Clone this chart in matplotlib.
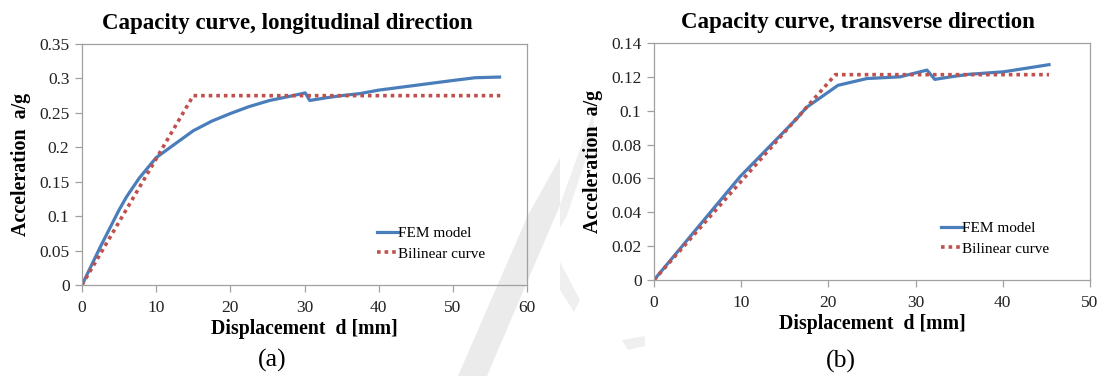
import matplotlib
matplotlib.use("Agg")
import matplotlib.pyplot as plt
from matplotlib.patches import Polygon

plt.rcParams['font.family'] = ['Liberation Serif', 'DejaVu Serif']

# Longitudinal direction data
long_fem_x = [0, 2.5, 5.0, 6.0, 7.7, 10.0, 12.3, 15.0, 17.5, 20.0, 22.5, 25.3, 28.0, 30.1, 30.7, 33.0, 35.0, 37.5, 40.0, 45.0, 50.0, 53.0, 56.3]
long_fem_y = [0, 0.056, 0.109, 0.128, 0.155, 0.185, 0.203, 0.224, 0.238, 0.249, 0.259, 0.268, 0.274, 0.279, 0.268, 0.272, 0.275, 0.278, 0.283, 0.290, 0.297, 0.301, 0.302]
long_bil_x = [0, 15.0, 56.4]
long_bil_y = [0, 0.275, 0.275]

# Transverse direction data
tran_fem_x = [0, 9.86, 16.4, 17.5, 21.1, 24.4, 28.2, 31.3, 32.2, 34.0, 36.1, 40.1, 45.3]
tran_fem_y = [0, 0.061, 0.0955, 0.102, 0.115, 0.119, 0.120, 0.124, 0.1185, 0.120, 0.1215, 0.123, 0.1272]
tran_bil_x = [0, 20.8, 45.3]
tran_bil_y = [0, 0.1213, 0.1213]

long_xticks = [0, 10, 20, 30, 40, 50, 60]
long_yticks = [0, 0.05, 0.1, 0.15, 0.2, 0.25, 0.3, 0.35]
long_yticklabels = ['0', '0.05', '0.1', '0.15', '0.2', '0.25', '0.3', '0.35']
tran_xticks = [0, 10, 20, 30, 40, 50]
tran_yticks = [0, 0.02, 0.04, 0.06, 0.08, 0.1, 0.12, 0.14]
tran_yticklabels = ['0', '0.02', '0.04', '0.06', '0.08', '0.1', '0.12', '0.14']

BLUE = '#4a7ebb'
RED = '#c0504d'

W, H = 1104, 376
fig = plt.figure(figsize=(W / 100, H / 100), dpi=100)

def px(points):
    return [[x / W, 1 - y / H] for x, y in points]

# light grey watermark fragments (drawn behind everything)
for pts, col in [
    ([(528, 215), (560, 158), (560, 205), (487, 376), (458, 376)], '#ebebeb'),
    ([(560, 205), (594, 110), (594, 135), (567, 215), (560, 228)], '#efefef'),
    ([(560, 262), (580, 300), (574, 312), (560, 290)], '#efefef'),
    ([(622, 340), (645, 336), (645, 346), (628, 350)], '#efefef'),
]:
    fig.patches.append(Polygon(px(pts), closed=True, transform=fig.transFigure,
                               facecolor=col, edgecolor='none', zorder=-10))

ax1 = fig.add_axes([82 / W, 1 - 285 / H, 445 / W, 241 / H])
ax2 = fig.add_axes([654 / W, 1 - 280 / H, 436 / W, 237 / H])

def style(ax, xticks, yticks, yticklabels, xlim, ylim, title, tx):
    ax.set_xlim(*xlim)
    ax.set_ylim(*ylim)
    ax.set_xticks(xticks)
    ax.set_xticklabels([str(t) for t in xticks])
    ax.set_yticks(yticks)
    ax.set_yticklabels(yticklabels)
    for s in ax.spines.values():
        s.set_color('#a0a0a0')
        s.set_linewidth(0.9)
    ax.tick_params(axis='both', direction='out', length=5, width=0.9, color='#a0a0a0',
                   labelsize=12.5, labelcolor='#222222', pad=4)
    ax.tick_params(axis='x', pad=6)
    ax.set_title(title, fontsize=16.5, fontweight='bold', pad=11, x=tx)
    ax.set_xlabel('Displacement  d [mm]', fontsize=14.2, fontweight='bold', labelpad=2)
    ax.set_ylabel('Acceleration  a/g', fontsize=14.4, fontweight='bold', labelpad=6)
    ax.patch.set_alpha(0)

def legend(ax, x, ymid):
    ax.legend(loc='center left', bbox_to_anchor=(x / W, 1 - ymid / H),
              bbox_transform=fig.transFigure, frameon=False, fontsize=11,
              handlelength=1.35, handletextpad=0.0, labelspacing=0.45,
              borderpad=0, borderaxespad=0)

ax1.plot(long_fem_x, long_fem_y, color=BLUE, lw=2.3, label='FEM model', solid_joinstyle='round')
ax1.plot(long_bil_x, long_bil_y, color=RED, lw=2.6, linestyle=(0, (1, 1.1)),
         dash_capstyle='butt', label='Bilinear curve')
style(ax1, long_xticks, long_yticks, long_yticklabels, (0, 60), (0, 0.35),
      'Capacity curve, longitudinal direction', 0.461)
legend(ax1, 377, 243.5)

ax2.plot(tran_fem_x, tran_fem_y, color=BLUE, lw=2.3, label='FEM model', solid_joinstyle='round')
ax2.plot(tran_bil_x, tran_bil_y, color=RED, lw=2.6, linestyle=(0, (1, 1.1)),
         dash_capstyle='butt', label='Bilinear curve')
style(ax2, tran_xticks, tran_yticks, tran_yticklabels, (0, 50), (0, 0.14),
      'Capacity curve, transverse direction', 0.468)
legend(ax2, 941, 238.5)

fig.text(272 / W, 1 - 360 / H, '(a)', fontsize=18.5, ha='center', va='center')
fig.text(841 / W, 1 - 361 / H, '(b)', fontsize=18.5, ha='center', va='center')

fig.savefig('out.png', dpi=100)
